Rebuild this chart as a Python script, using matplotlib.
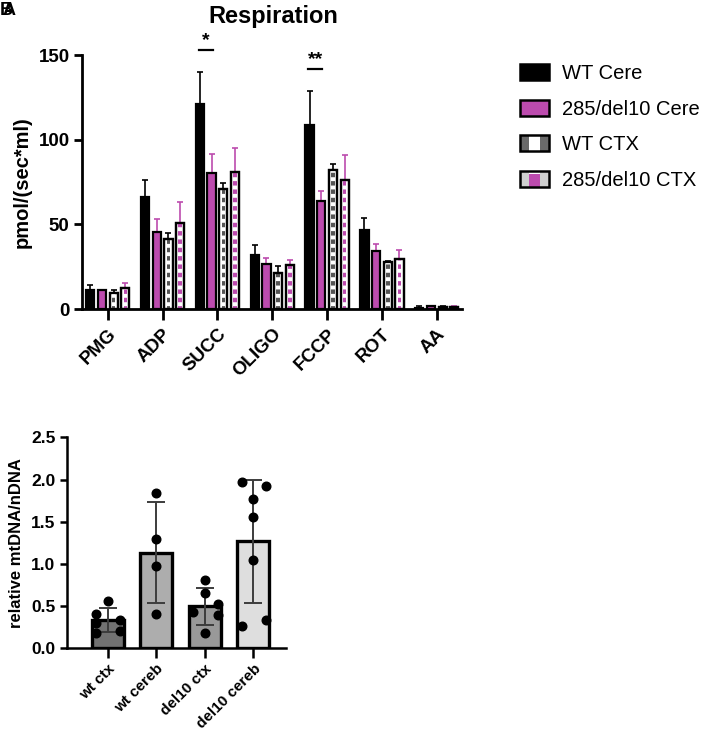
import numpy as np
import matplotlib
matplotlib.use("Agg")
import matplotlib.pyplot as plt
from matplotlib.patches import Rectangle, Patch

plt.rcParams['font.family'] = ['Liberation Sans', 'DejaVu Sans']
plt.rcParams['hatch.linewidth'] = 2.8

# ---------------- data: respiration ----------------
categories = ['PMG', 'ADP', 'SUCC', 'OLIGO', 'FCCP', 'ROT', 'AA']
series_names = ['WT Cere', '285/del10 Cere', 'WT CTX', '285/del10 CTX']
wt_cere = [11, 66, 121, 32, 108.5, 46.5, 0.6]
wt_cere_err = [3, 10, 19, 6, 20, 7, 1.4]
del_cere = [11, 45.5, 80.5, 26.5, 63.5, 34, 1.5]
del_cere_err = [0.5, 7.5, 11, 3.5, 6, 4.5, 0.4]
wt_ctx = [9.5, 41.5, 71, 21, 82, 27.5, 1.2]
wt_ctx_err = [2, 3.5, 3.5, 4.5, 3.5, 0.8, 0.3]
del_ctx = [12.5, 51, 81, 26, 76, 29.5, 1.2]
del_ctx_err = [3, 12, 14, 3, 15, 5.5, 0.4]
yticks_top = [0, 50, 100, 150]

# significance: (category index, series a, series b, height, label)
sig_marks = [(2, 0, 1, 153, '*'), (4, 0, 1, 141.5, '**')]

# ---------------- data: mtDNA ----------------
groups = ['wt ctx', 'wt cereb', 'del10 ctx', 'del10 cereb']
pts_wt_ctx = [0.56, 0.41, 0.30, 0.34, 0.20, 0.18]
pts_wt_cereb = [1.84, 1.30, 0.98, 0.41]
pts_del_ctx = [0.81, 0.65, 0.53, 0.43, 0.39, 0.18]
pts_del_cereb = [1.97, 1.92, 1.77, 1.55, 1.05, 0.27, 0.33]
yticks_bot = [0.0, 0.5, 1.0, 1.5, 2.0, 2.5]

# ---------------- styles ----------------
MAG = '#BC4BAE'
W, H = 709, 734
fig = plt.figure(figsize=(W / 100, H / 100), dpi=100)

# ===== Respiration panel =====
ax1 = fig.add_axes([82 / W, 1 - 309 / H, (462 - 82) / W, (309 - 55) / H])
x = np.arange(len(categories))
offs = [-0.32, -0.107, 0.107, 0.32]
bw = 0.15

series = [(wt_cere, wt_cere_err), (del_cere, del_cere_err),
          (wt_ctx, wt_ctx_err), (del_ctx, del_ctx_err)]
face = ['black', MAG, 'white', 'white']
stripe = [None, None, '#555555', MAG]
errc = ['black', MAG, 'black', MAG]

for i, (vals, errs) in enumerate(series):
    xi = x + offs[i]
    ax1.bar(xi, vals, width=bw, facecolor=face[i], edgecolor='black',
            linewidth=1.6, zorder=2)
    if stripe[i] is not None:
        ax1.bar(xi, vals, width=bw * 0.42, facecolor=stripe[i],
                edgecolor='white', linewidth=0, hatch='--', zorder=3)
        ax1.bar(xi, vals, width=bw, facecolor='none', edgecolor='black',
                linewidth=1.6, zorder=4)
    ax1.errorbar(xi, vals, yerr=[np.zeros(len(vals)), errs], fmt='none',
                 ecolor=errc[i], elinewidth=1.2, capsize=2.2, capthick=1.2,
                 zorder=1)

for ci, a, b, h, lab in sig_marks:
    xa, xb = x[ci] + offs[a] - 0.02, x[ci] + offs[b] + 0.02
    ax1.plot([xa, xb], [h, h], color='black', lw=1.6, clip_on=False)
    ax1.text((xa + xb) / 2, h + 0.5, lab, ha='center', va='bottom',
             fontsize=14, fontweight='bold', clip_on=False)

ax1.set_xlim(-0.47, 6.46)
ax1.set_ylim(0, 150)
ax1.set_yticks(yticks_top)
ax1.set_xticks(x)
ax1.set_xticklabels(categories, rotation=45, ha='right', va='top',
                    rotation_mode='anchor', fontsize=13.5, fontweight='bold')
for t in ax1.get_yticklabels():
    t.set_fontweight('bold')
    t.set_fontsize(13.5)
ax1.tick_params(axis='y', length=6, width=2, pad=3)
ax1.tick_params(axis='x', length=8, width=2, pad=4)
for s in ['top', 'right']:
    ax1.spines[s].set_visible(False)
for s in ['left', 'bottom']:
    ax1.spines[s].set_linewidth(2)
ax1.set_ylabel('pmol/(sec*ml)', fontsize=14.5, fontweight='bold', labelpad=5)
fig.text(273 / W, 1 - 16 / H, 'Respiration', ha='center', va='center',
         fontsize=17, fontweight='bold')

# legend
class CTXHandler:
    def __init__(self, side, mid):
        self.side, self.mid = side, mid

    def legend_artist(self, legend, orig_handle, fontsize, handlebox):
        x0, y0 = -handlebox.xdescent, -handlebox.ydescent
        w, h = handlebox.width, handlebox.height
        tr = handlebox.get_transform()
        bg = Rectangle((x0, y0), w, h, facecolor=self.side, edgecolor='none',
                       transform=tr)
        mid = Rectangle((x0 + w * 0.32, y0), w * 0.36, h * 0.8,
                        facecolor=self.mid, edgecolor='none', transform=tr)
        top = Rectangle((x0 + w * 0.32, y0 + h * 0.8), w * 0.36, h * 0.2,
                        facecolor='white', edgecolor='none', transform=tr)
        border = Rectangle((x0, y0), w, h, facecolor='none', edgecolor='black',
                           linewidth=1.8, transform=tr)
        for art in (bg, mid, top, border):
            handlebox.add_artist(art)
        return border

h_wt = Patch(facecolor='black', edgecolor='black', linewidth=1.8)
h_del = Patch(facecolor=MAG, edgecolor='black', linewidth=1.8)
h_wtctx = Patch(facecolor='white')
h_delctx = Patch(facecolor='white', edgecolor='none')
fig.legend([h_wt, h_del, h_wtctx, h_delctx], series_names,
           loc='upper left', bbox_to_anchor=(520 / W, 1 - 64 / H),
           frameon=False, fontsize=14.5, handlelength=1.45, handleheight=0.85,
           handletextpad=0.62, labelspacing=0.82, borderaxespad=0,
           borderpad=0,
           handler_map={h_wtctx: CTXHandler('#6a6a6a', 'white'),
                        h_delctx: CTXHandler('#cfcfcf', MAG)})

# panel letters (overlaid, as in the source figure)
fig.text(0 / W, 1 - 2 / H, 'B', ha='left', va='top', fontsize=13,
         fontweight='bold')
fig.text(3 / W, 1 - 2 / H, 'A', ha='left', va='top', fontsize=13,
         fontweight='bold')

# ===== mtDNA panel =====
ax2 = fig.add_axes([66.7 / W, 1 - 648.3 / H, (286 - 66.7) / W,
                    (648.3 - 437.3) / H])
pts = [pts_wt_ctx, pts_wt_cereb, pts_del_ctx, pts_del_cereb]
jitter = [[0, -0.25, -0.25, 0.25, 0.25, -0.25],
          [0, 0, 0, 0],
          [0, 0, 0.26, -0.24, 0.26, 0],
          [-0.24, 0.26, 0, 0, 0, -0.24, 0.26]]
bar_cols = ['#727272', '#adadad', '#999999', '#dedede']
xb = np.arange(len(groups))
means = [np.mean(p) for p in pts]
sds = [np.std(p, ddof=1) for p in pts]
ax2.bar(xb, means, width=0.66, color=bar_cols, edgecolor='black',
        linewidth=2.4, zorder=2)
ax2.errorbar(xb, means, yerr=sds, fmt='none', ecolor='#3c3c3c',
             elinewidth=1.4, capsize=6.5, capthick=1.4, zorder=3)
for i, p in enumerate(pts):
    ax2.plot(xb[i] + np.array(jitter[i]), p, 'o', color='black',
             markersize=6.2, zorder=4, clip_on=False)

ax2.set_xlim(-0.845, 3.67)
ax2.set_ylim(0, 2.5)
ax2.set_yticks(yticks_bot)
ax2.set_yticklabels([f'{v:.1f}' for v in yticks_bot], fontsize=12.5,
                    fontweight='bold')
ax2.set_xticks(xb)
ax2.set_xticklabels(groups, rotation=45, ha='right', va='top',
                    rotation_mode='anchor', fontsize=11, fontweight='bold')
ax2.tick_params(axis='y', length=5, width=1.8, pad=3)
ax2.tick_params(axis='x', length=7, width=1.8, pad=2.5)
for s in ['top', 'right']:
    ax2.spines[s].set_visible(False)
for s in ['left', 'bottom']:
    ax2.spines[s].set_linewidth(1.8)
ax2.set_ylabel('relative mtDNA/nDNA', fontsize=12, fontweight='bold',
               labelpad=5)

fig.savefig('out.png', dpi=100)
